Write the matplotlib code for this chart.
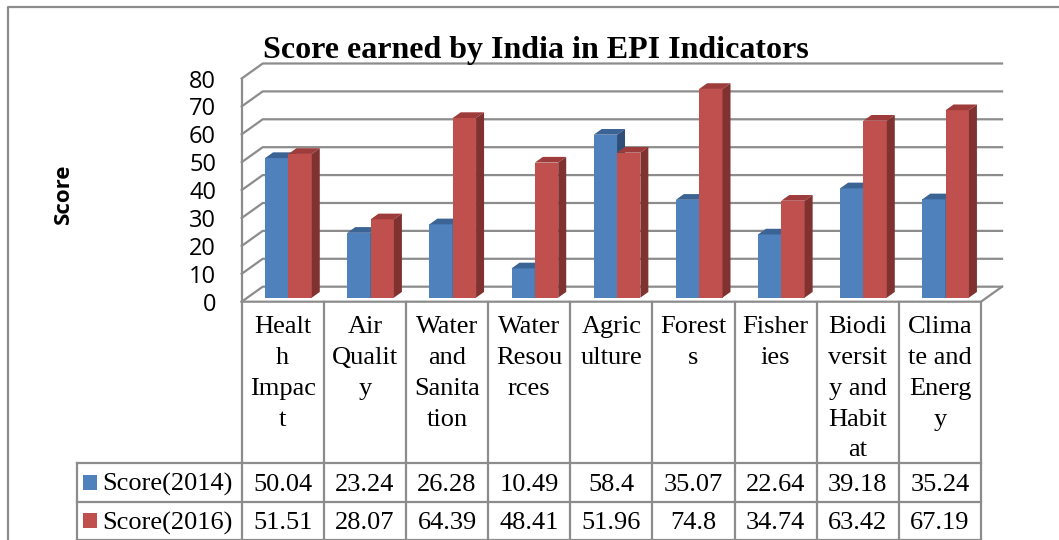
import matplotlib
matplotlib.use("Agg")
import matplotlib.pyplot as plt
import matplotlib.transforms as mtransforms
from matplotlib.patches import Polygon, Rectangle

# data
categories = ["Healt\nh\nImpac\nt", "Air\nQualit\ny", "Water\nand\nSanita\ntion",
              "Water\nResou\nrces", "Agric\nulture", "Forest\ns", "Fisher\nies",
              "Biodi\nversit\ny and\nHabit\nat", "Clima\nte and\nEnerg\ny"]
score_2014 = [50.04, 23.24, 26.28, 10.49, 58.4, 35.07, 22.64, 39.18, 35.24]
score_2016 = [51.51, 28.07, 64.39, 48.41, 51.96, 74.8, 34.74, 63.42, 67.19]
series_names = ["Score(2014)", "Score(2016)"]
yticks = [0, 10, 20, 30, 40, 50, 60, 70, 80]

W, H = 1059, 540
fig = plt.figure(figsize=(W / 100, H / 100), dpi=100)
ax = fig.add_axes([241.7 / W, 1 - 301.7 / H, 739.3 / W, 223.2 / H])
n = len(categories)
ax.set_xlim(0, n)
ax.set_ylim(0, 80)

# pixel transform (origin top-left) and blended one for the table
px = mtransforms.Affine2D().scale(1 / W, -1 / H).translate(0, 1) + fig.transFigure
tbl = mtransforms.blended_transform_factory(ax.transData, px)

serif = "Liberation Serif"
grid = "#8c8c8c"
DX, DY = 0.256, 5.38      # depth of the walls, in data units
D0, DB = 0.27, 0.38       # bar front depth and bar depth (fraction of wall)
BW = 0.284
GAP = (1 - 2 * BW) / 2

# walls and floor
for v in yticks:
    ax.plot([0, DX, n + DX], [v, v + DY, v + DY], color=grid, lw=1.6,
            clip_on=False, zorder=1)
ax.plot([0, 0], [0, 80], color=grid, lw=1.6, clip_on=False, zorder=1)
ax.plot([0, n, n + DX], [0, 0, DY], color=grid, lw=1.6, clip_on=False, zorder=1)

# 3d columns
colors = [("#4f81bd", "#3b6394", "#2f4f78"), ("#c0504d", "#9d3c3a", "#7f3230")]
for k, vals in enumerate([score_2014, score_2016]):
    front, top, side = colors[k]
    xs = [i + DX * D0 + GAP + k * BW for i in range(n)]
    ax.bar(xs, vals, width=BW, bottom=DY * D0, align="edge", color=front,
           lw=0, zorder=3 + k, clip_on=False)
    for x, v in zip(xs, vals):
        y0 = DY * D0 + v
        ax.add_patch(Polygon([(x, y0), (x + BW, y0), (x + BW + DX * DB, y0 + DY * DB),
                              (x + DX * DB, y0 + DY * DB)], closed=True,
                             fc=top, lw=0, zorder=3 + k, clip_on=False))
        ax.add_patch(Polygon([(x + BW, DY * D0), (x + BW + DX * DB, DY * (D0 + DB)),
                              (x + BW + DX * DB, y0 + DY * DB), (x + BW, y0)],
                             closed=True, fc=side, lw=0, zorder=3 + k, clip_on=False))

ax.set_yticks(yticks)
ax.set_yticklabels([str(t) for t in yticks], fontsize=17, family="Open Sans")
ax.tick_params(axis="y", length=0, pad=18.5)
ax.set_xticks([])
for s in ax.spines.values():
    s.set_visible(False)
ax.patch.set_visible(False)

fig.text(63, 194, "Score", transform=px, rotation=90, ha="center", va="center",
         fontsize=16, fontweight="bold", family="Open Sans")
fig.text(536, 57.6, "Score earned by India in EPI Indicators", transform=px,
         ha="center", va="baseline", fontsize=23, fontweight="bold", family=serif)

# data table
rows = [301.7, 462.7, 501.7, 539.5]
for i in range(n + 1):
    ax.plot([i, i], [rows[0], 545], transform=tbl, color=grid, lw=1.6,
            clip_on=False, zorder=1)
ax.plot([-2, -2], [rows[1], 545], transform=tbl, color=grid, lw=1.6, clip_on=False)
for r in rows[1:]:
    ax.plot([-2, n], [r, r], transform=tbl, color=grid, lw=1.6, clip_on=False)

for i, lab in enumerate(categories):
    ax.text(i + 0.5, 316, lab, transform=tbl, ha="center", va="top",
            multialignment="center", fontsize=19, family=serif, linespacing=1.52)

for r, (name, vals) in enumerate(zip(series_names, [score_2014, score_2016])):
    yc = (rows[r + 1] + rows[r + 2]) / 2
    for i, v in enumerate(vals):
        ax.text(i + 0.5, yc, f"{v:g}", transform=tbl, ha="center",
                va="center_baseline", fontsize=19, family=serif)
    fig.add_artist(Rectangle((82.7, yc - 7.3), 14, 14.6, transform=px,
                             fc=colors[r][0], lw=0))
    fig.text(102.5, yc, name, transform=px, ha="left", va="center_baseline",
             fontsize=19, family=serif)

# outer frame
fig.add_artist(plt.Line2D([7.5, 7.5, W], [H, 6.8, 6.8], transform=px,
                          color="#8c8c8c", lw=1.6))

fig.savefig("out.png", dpi=100)
